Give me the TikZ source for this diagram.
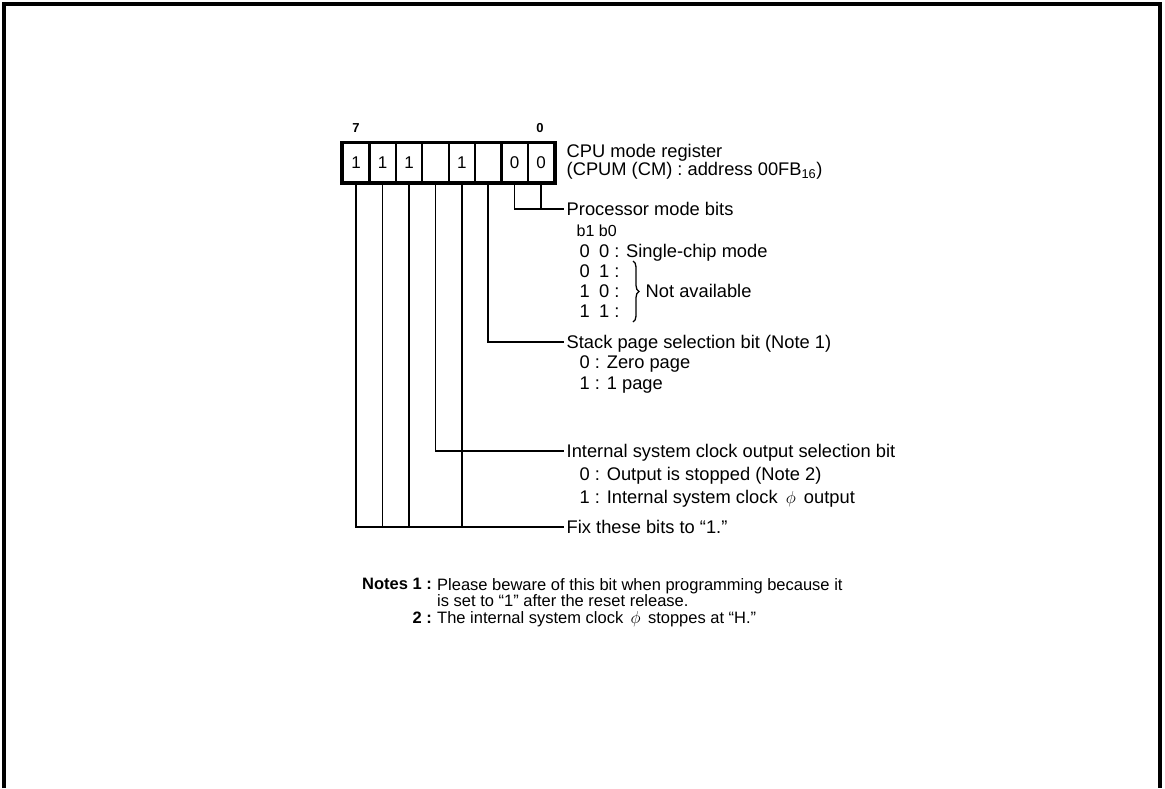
\documentclass[tikz,border=0pt]{standalone}
\usepackage{fontspec}
\setmainfont{Liberation Sans}
\usetikzlibrary{decorations.pathreplacing}
\newcommand{\fsmain}{\fontsize{18.3}{20}\selectfont}
\newcommand{\fssub}{\fontsize{16}{18}\selectfont}
\newcommand{\fsnote}{\fontsize{16.5}{19}\selectfont}
\newcommand{\fsbit}{\fontsize{17}{19}\selectfont}
\tikzset{
  cell/.style={draw, line width=2.2pt, minimum width=26.4pt, minimum height=39pt, inner sep=0pt, font=\fsbit},
  txt/.style={anchor=west, inner sep=2.5pt, font=\fsmain, text height=13pt, text depth=0pt},
  ntxt/.style={anchor=west, inner sep=1pt, font=\fsnote, text height=12pt, text depth=0pt},
  nlab/.style={anchor=east, inner sep=1pt, font=\fsnote\bfseries, text height=12pt, text depth=0pt},
  conn/.style={line width=1.5pt},
  frame/.style={line width=3.5pt}
}
\begin{document}
\begin{tikzpicture}[x=1pt,y=-1pt]
\useasboundingbox (0,0) rectangle (1165,788);
% frame
\draw[frame] (4,788) -- (4,4) -- (1160,4) -- (1160,788);
% register cells
\node[cell] (c7) at (356.2,162.8) {1};
\node[cell] (c6) at (382.6,162.8) {1};
\node[cell] (c5) at (409.0,162.8) {1};
\node[cell] (c4) at (435.4,162.8) {};
\node[cell] (c3) at (461.8,162.8) {1};
\node[cell] (c2) at (488.2,162.8) {};
\node[cell] (c1) at (514.6,162.8) {0};
\node[cell] (c0) at (541.0,162.8) {0};
\draw[line width=3pt] (c7.north west) rectangle (c0.south east);
\node[font=\fontsize{13}{15}\selectfont\bfseries, inner sep=0pt] (b7) at (356,128) {7};
\node[font=\fontsize{13}{15}\selectfont\bfseries, inner sep=0pt] (b0) at (540,128) {0};
% labels
\node[txt] (reg1) at (564,151) {CPU mode register};
\node[txt] (reg2) at (564,169) {(CPUM (CM) : address 00FB\textsubscript{16})};
\node[txt] (pm) at (564,209) {Processor mode bits};
\node[txt, font=\fssub, text height=11.5pt] (pmh) at (574,231) {b1 b0};
\node[txt] (pm00) at (577,251) {0\enspace0 : Single-chip mode};
\node[txt] (pm01) at (577,271) {0\enspace1 :};
\node[txt] (pm10) at (577,291) {1\enspace0 :};
\node[txt] (pm11) at (577,311) {1\enspace1 :};
\coordinate (brt) at (633,261);
\coordinate (brb) at (633,322);
\draw[line width=1.3pt, decorate, decoration={brace, amplitude=6pt}] (brt) -- (brb);
\node[txt] (na) at (643,291) {Not available};
\node[txt] (sp) at (564,342) {Stack page selection bit (Note 1)};
\node[txt] (sp0) at (577,362) {0 : Zero page};
\node[txt] (sp1) at (577,383) {1 : 1 page};
\node[txt] (ic) at (564,451) {Internal system clock output selection bit};
\node[txt] (ic0) at (577,474) {0 : Output is stopped (Note 2)};
\node[txt] (ic1) at (577,497) {1 : Internal system clock \,$\phi$\, output};
\node[txt] (fx) at (564,527) {Fix these bits to “1.”};
% notes
\node[nlab] (n1) at (433,583) {Notes 1 :};
\node[ntxt] (n1a) at (436,584) {Please beware of this bit when programming because it};
\node[ntxt] (n1b) at (436,600) {is set to “1” after the reset release.};
\node[nlab] (n2) at (433,617) {2 :};
\node[ntxt] (n2a) at (436,617) {The internal system clock \,$\phi$\, stoppes at “H.”};
% connectors
\draw[conn] (c1.south) |- (pm.west);
\draw[conn] (c0.south) -- (c0.south |- pm.west);
\draw[conn] (c2.south) |- (sp.west);
\draw[conn] (c4.south) |- (ic.west);
\draw[conn] (c7.south) |- (fx.west);
\draw[conn] (c6.south) -- (c6.south |- fx.west);
\draw[conn] (c5.south) -- (c5.south |- fx.west);
\draw[conn] (c3.south) -- (c3.south |- fx.west);
\end{tikzpicture}
\end{document}
